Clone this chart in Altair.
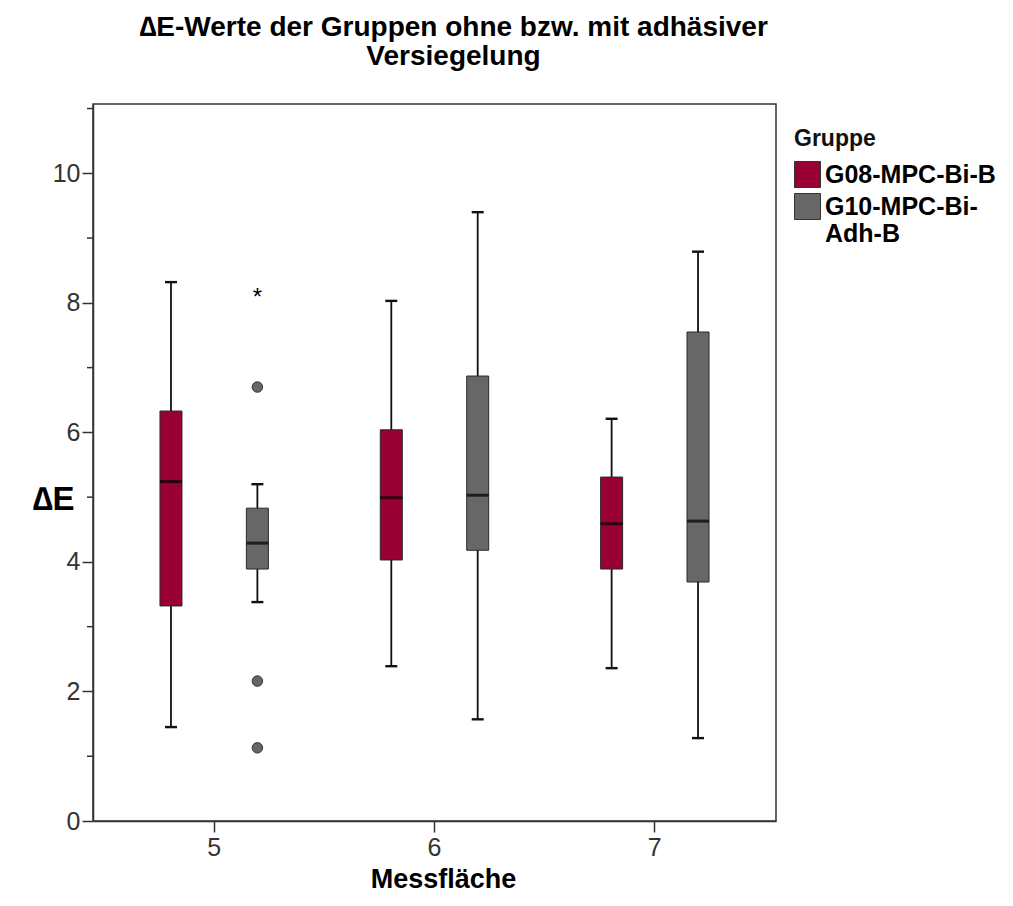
import altair as alt
import pandas as pd

# --- data ---
areas = ["5", "5", "6", "6", "7", "7"]
groups = ["G08-MPC-Bi-B", "G10-MPC-Bi-Adh-B", "G08-MPC-Bi-B", "G10-MPC-Bi-Adh-B",
          "G08-MPC-Bi-B", "G10-MPC-Bi-Adh-B"]
whisker_low = [1.45, 3.38, 2.39, 1.57, 2.36, 1.28]
q1 = [3.32, 3.89, 4.03, 4.18, 3.89, 3.69]
median = [5.24, 4.29, 4.99, 5.03, 4.59, 4.63]
q3 = [6.33, 4.83, 6.04, 6.87, 5.31, 7.55]
whisker_high = [8.32, 5.20, 8.03, 9.40, 6.21, 8.79]

outlier_area = ["5", "5", "5"]
outlier_group = ["G10-MPC-Bi-Adh-B", "G10-MPC-Bi-Adh-B", "G10-MPC-Bi-Adh-B"]
outlier_value = [6.70, 2.16, 1.13]

extreme_area = ["5"]
extreme_group = ["G10-MPC-Bi-Adh-B"]
extreme_value = [8.15]

area_order = ["5", "6", "7"]
group_order = ["G08-MPC-Bi-B", "G10-MPC-Bi-Adh-B"]
group_colors = ["#990033", "#676767"]
major_ticks = [0, 2, 4, 6, 8, 10]
minor_ticks = [1, 3, 5, 7, 9, 11]

box_df = pd.DataFrame({"area": areas, "group": groups, "low": whisker_low, "q1": q1,
                       "median": median, "q3": q3, "high": whisker_high})
out_df = pd.DataFrame({"area": outlier_area, "group": outlier_group, "value": outlier_value})
ext_df = pd.DataFrame({"area": extreme_area, "group": extreme_group, "value": extreme_value})
minor_df = pd.DataFrame({"tick": minor_ticks})

FONT = "Liberation Sans"

x_enc = alt.X("area:N",
              scale=alt.Scale(domain=area_order, paddingInner=0.2, paddingOuter=0.15),
              axis=alt.Axis(title="Messfläche", labelAngle=0, titleX=350, titleY=58,
                            titleBaseline="middle", titleFontSize=27, labelPadding=3))
xo_enc = alt.XOffset("group:N", scale=alt.Scale(domain=group_order, paddingInner=0, paddingOuter=0.02))

y_scale = alt.Scale(domain=[0, 11.07], nice=False, zero=False)
y_axis = alt.Axis(title="∆E", values=major_ticks,
                  titleAngle=0, titleX=-40, titleY=395, titleAlign="center",
                  titleBaseline="middle", titleFontSize=33, labelPadding=2)


def Y(field):
    return alt.Y(f"{field}:Q", scale=y_scale, axis=y_axis)


base = alt.Chart(box_df)

whiskers = base.mark_rule(color="#111", strokeWidth=1.8).encode(
    x=x_enc, xOffset=xo_enc, y=Y("low"), y2="high:Q")

boxes = base.mark_bar(size=22, stroke="#2a2a2a", strokeWidth=1).encode(
    x=x_enc, xOffset=xo_enc, y=Y("q1"), y2="q3:Q",
    color=alt.Color("group:N", scale=alt.Scale(domain=group_order, range=group_colors),
                    legend=alt.Legend(title="Gruppe", orient="none", legendX=701, legendY=24,
                                      symbolType="square", symbolSize=676,
                                      symbolStrokeColor="#333", symbolStrokeWidth=1,
                                      labelFontSize=25, labelFontWeight="bold", labelFont=FONT,
                                      labelColor="#000", titleFontSize=23, titleFont=FONT,
                                      titleFontWeight="bold", titleColor="#111",
                                      titleAnchor="start", titlePadding=10,
                                      labelOffset=4, rowPadding=1,
                                      padding=0, labelLimit=300,
                                      labelExpr="datum.label == 'G10-MPC-Bi-Adh-B' ? ['G10-MPC-Bi-', 'Adh-B'] : datum.label")))

medians = base.mark_tick(color="#000", size=22, thickness=3, orient="horizontal").encode(
    x=x_enc, xOffset=xo_enc, y=Y("median"))

cap_shape = "M-1,0L1,0"
caps_low = base.mark_point(shape=cap_shape, size=144, filled=False, color="#111",
                           strokeWidth=2.4, opacity=1).encode(
    x=x_enc, xOffset=xo_enc, y=Y("low"))
caps_high = base.mark_point(shape=cap_shape, size=144, filled=False, color="#111",
                            strokeWidth=2.4, opacity=1).encode(
    x=x_enc, xOffset=xo_enc, y=Y("high"))

outliers = alt.Chart(out_df).mark_point(filled=True, size=110, color="#666",
                                        stroke="#333", strokeWidth=1, opacity=1).encode(
    x=x_enc, xOffset=xo_enc, y=Y("value"))

extremes = alt.Chart(ext_df).mark_text(text="*", fontSize=24, font=FONT, color="#000",
                                       baseline="middle", dy=5).encode(
    x=x_enc, xOffset=xo_enc, y=Y("value"))

minor = alt.Chart(minor_df).mark_rule(color="#333", strokeWidth=1.5).encode(
    x=alt.value(-6), x2=alt.value(0), y=Y("tick"))

chart = alt.layer(whiskers, boxes, medians, caps_low, caps_high, outliers, extremes, minor).properties(
    width=683, height=717,
    title=alt.TitleParams(text=["∆E-Werte der Gruppen ohne bzw. mit adhäsiver", "Versiegelung"],
                          font=FONT, fontSize=28, fontWeight="bold", color="#000",
                          anchor="middle", dx=19, offset=33, lineHeight=29),
    autosize="none",
    padding={"left": 85, "top": 96, "right": 228, "bottom": 71},
    background="white",
).configure_view(
    stroke="#333", strokeWidth=1.5
).configure_axis(
    domainColor="#333", domainWidth=1.5, tickColor="#333", tickWidth=1.5, tickSize=11,
    labelFont=FONT, labelFontSize=25, labelColor="#333", grid=False,
    titleFont=FONT, titleFontWeight="bold", titleColor="#000"
)

chart.save("out.html", embed_options={"renderer": "svg", "actions": False})
